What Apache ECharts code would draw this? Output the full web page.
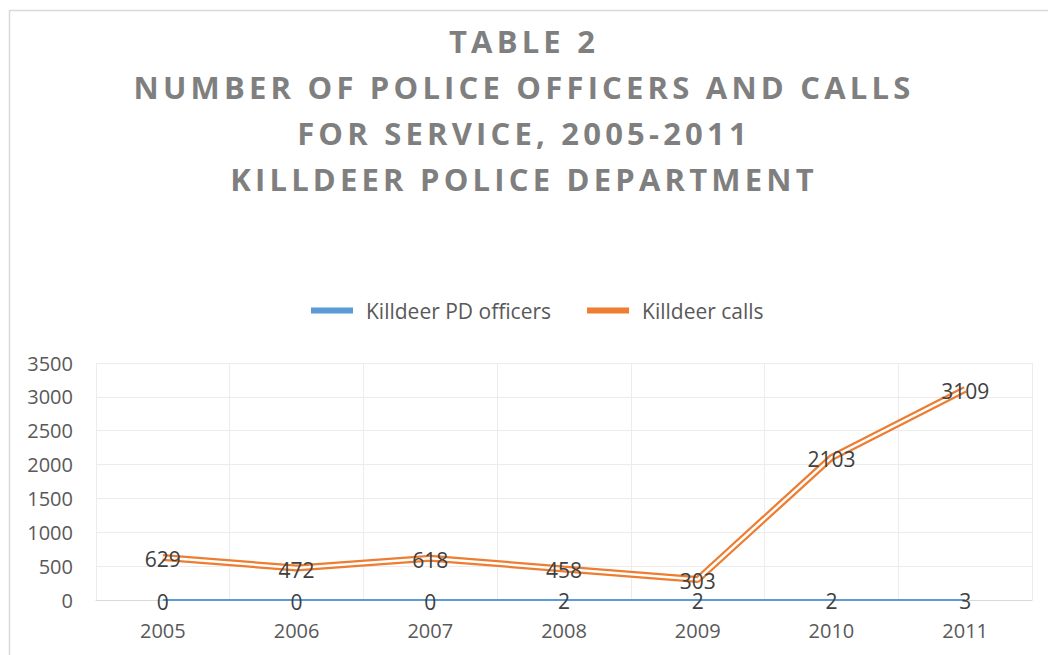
<!DOCTYPE html>
<html>
<head>
<meta charset="utf-8">
<script src="https://cdn.jsdelivr.net/npm/echarts@6/dist/echarts.min.js"></script>
<style>
html,body{margin:0;padding:0;background:#fff;}
#chart{width:1048px;height:655px;}
#chart text[style*="bold"], #chart text[font-weight="bold"]{letter-spacing:4.2px;}
</style>
</head>
<body>
<div id="chart"></div>
<script>
const titleLines = ['TABLE 2', 'NUMBER OF POLICE OFFICERS AND CALLS', 'FOR SERVICE, 2005-2011', 'KILLDEER POLICE DEPARTMENT'];
const categories = ['2005', '2006', '2007', '2008', '2009', '2010', '2011'];
const officers = [0, 0, 0, 2, 2, 2, 3];
const calls = [629, 472, 618, 458, 303, 2103, 3109];
const seriesNames = ['Killdeer PD officers', 'Killdeer calls'];
const yTicks = { min: 0, max: 3500, interval: 500 };

const font = 'Open Sans';
const dataLabel = {
  show: true, position: 'top', distance: 0, offset: [0, 12],
  fontFamily: font, fontSize: 21, color: '#404040'
};
const chart = echarts.init(document.getElementById('chart'), null, { renderer: 'svg' });
chart.setOption({
  animation: false,
  backgroundColor: '#fff',
  graphic: [{
    type: 'rect', left: 7, top: 8, silent: true, z: -10,
    shape: { width: 1100, height: 700 },
    style: { fill: 'none', stroke: '#d9d9d9', lineWidth: 1.5 }
  }],
  title: {
    text: titleLines.join('\n'),
    left: 'center', top: 13,
    textStyle: { fontFamily: font, fontWeight: 'bold', fontSize: 31, color: '#7f7f7f', lineHeight: 46 }
  },
  legend: {
    top: 295, left: 306,
    itemWidth: 42, itemHeight: 6, itemGap: 36,
    icon: 'rect',
    data: seriesNames,
    textStyle: { fontFamily: font, fontSize: 21, color: '#595959', padding: [0, 0, 0, 8] }
  },
  grid: { left: 96, right: 16, top: 363, bottom: 55 },
  xAxis: {
    type: 'category', data: categories, boundaryGap: true,
    axisLine: { show: true, lineStyle: { color: '#d9d9d9', width: 1 } },
    axisTick: { show: false },
    splitLine: { show: true, interval: 0, lineStyle: { color: '#ececec', width: 1 } },
    axisLabel: { fontFamily: font, fontSize: 20, color: '#595959', margin: 20 }
  },
  yAxis: {
    type: 'value', min: yTicks.min, max: yTicks.max, interval: yTicks.interval,
    axisLine: { show: false }, axisTick: { show: false },
    splitLine: { lineStyle: { color: '#ececec', width: 1 } },
    axisLabel: { fontFamily: font, fontSize: 20, color: '#595959', margin: 23, formatter: v => String(v) }
  },
  series: [
    {
      name: seriesNames[0], type: 'line', data: officers,
      symbol: 'circle', symbolSize: 0, showSymbol: true, z: 3,
      color: '#5b9bd5',
      lineStyle: { color: '#5b9bd5', width: 3.5, shadowColor: 'rgba(91,155,213,0.35)', shadowBlur: 4, shadowOffsetY: 3 },
      label: dataLabel
    },
    {
      name: seriesNames[1], type: 'line', data: calls,
      symbol: 'none', z: 2,
      color: '#ed7d31',
      lineStyle: { color: '#ed7d31', width: 7 }
    },
    {
      name: 'calls-inner', type: 'line', data: calls,
      symbol: 'circle', symbolSize: 0, showSymbol: true, z: 2, silent: true,
      color: '#ffffff',
      lineStyle: { color: '#ffffff', width: 2.5 },
      label: dataLabel
    }
  ]
});
</script>
</body>
</html>
